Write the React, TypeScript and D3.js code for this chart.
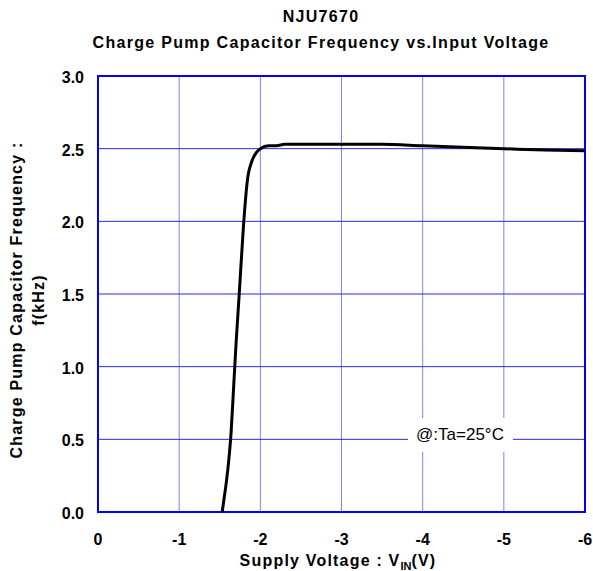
import React, { useEffect, useRef } from 'react';
import * as d3 from 'd3';

const voltage = [-1.53, -1.55, -1.58, -1.61, -1.64, -1.67, -1.7, -1.74, -1.79, -1.84, -1.9, -1.96, -2.0, -2.1, -2.2, -2.3, -2.5, -3.0, -3.5, -4.0, -4.5, -5.0, -5.5, -6.0];
const frequency = [0, 0.08, 0.2, 0.35, 0.55, 0.85, 1.15, 1.5, 1.95, 2.28, 2.42, 2.48, 2.5, 2.52, 2.52, 2.53, 2.53, 2.53, 2.53, 2.52, 2.51, 2.5, 2.49, 2.485];
const xTicks = [0, -1, -2, -3, -4, -5, -6];
const yTicks = [0, 0.5, 1.0, 1.5, 2.0, 2.5, 3.0];

const W = 593;
const H = 571;
const margin = { left: 98, right: 8, top: 76, bottom: 59 };

const App: React.FC = () => {
  const svgRef = useRef<SVGSVGElement>(null);

  useEffect(() => {
    if (!svgRef.current) return;
    const svg = d3.select(svgRef.current);
    svg.selectAll('*').remove();

    const x = d3.scaleLinear().domain([0, -6]).range([margin.left, W - margin.right]);
    const y = d3.scaleLinear().domain([0, 3]).range([H - margin.bottom, margin.top]);
    const font = 'Liberation Sans, Arial, sans-serif';

    // grid
    svg.append('g')
      .selectAll('line')
      .data(xTicks.slice(1, -1))
      .enter().append('line')
      .attr('x1', d => x(d)).attr('x2', d => x(d))
      .attr('y1', y(0)).attr('y2', y(3))
      .attr('stroke', '#7f7fff').attr('stroke-width', 1);

    svg.append('g')
      .selectAll('line')
      .data(yTicks.slice(1, -1))
      .enter().append('line')
      .attr('x1', x(0)).attr('x2', x(-6))
      .attr('y1', d => y(d)).attr('y2', d => y(d))
      .attr('stroke', '#2a2ae0').attr('stroke-width', 1);

    // note box
    svg.append('rect')
      .attr('x', 408).attr('y', 418).attr('width', 105).attr('height', 34)
      .attr('fill', '#fff');
    svg.append('text')
      .attr('x', 460).attr('y', 440)
      .attr('text-anchor', 'middle')
      .style('font-family', font).style('font-size', '17px')
      .text('@:Ta=25°C');

    // frame
    svg.append('rect')
      .attr('x', x(0)).attr('y', y(3))
      .attr('width', x(-6) - x(0)).attr('height', y(0) - y(3))
      .attr('fill', 'none').attr('stroke', '#0000ff').attr('stroke-width', 2);

    // curve
    const pts = voltage.map((v, i) => [v, frequency[i]] as [number, number]);
    const line = d3.line<[number, number]>()
      .x(d => x(d[0])).y(d => y(d[1]))
      .curve(d3.curveMonotoneX);
    svg.append('path')
      .attr('d', line(pts) || '')
      .attr('fill', 'none').attr('stroke', '#000').attr('stroke-width', 3)
      .attr('stroke-linejoin', 'round');

    // tick labels
    svg.append('g')
      .selectAll('text')
      .data(xTicks)
      .enter().append('text')
      .attr('x', d => x(d)).attr('y', 545)
      .attr('text-anchor', 'middle')
      .style('font-family', font).style('font-size', '16px').style('font-weight', 'bold')
      .text(d => String(d));

    svg.append('g')
      .selectAll('text')
      .data(yTicks)
      .enter().append('text')
      .attr('x', 84).attr('y', d => y(d) + 7)
      .attr('text-anchor', 'end')
      .style('font-family', font).style('font-size', '16px').style('font-weight', 'bold')
      .text(d => d.toFixed(1));

    // titles
    const title = svg.append('text')
      .attr('text-anchor', 'middle')
      .style('font-family', font).style('font-size', '16px').style('font-weight', 'bold')
      .style('letter-spacing', '1.3px');
    title.append('tspan').attr('x', 321).attr('y', 22).text('NJU7670');
    title.append('tspan').attr('x', 321).attr('y', 48).text('Charge Pump Capacitor Frequency vs.Input Voltage');

    const xt = svg.append('text')
      .attr('x', 338).attr('y', 566)
      .attr('text-anchor', 'middle')
      .style('font-family', font).style('font-size', '16px').style('font-weight', 'bold')
      .style('letter-spacing', '1.2px');
    xt.append('tspan').text('Supply Voltage : V');
    xt.append('tspan').attr('dy', 4).style('font-size', '11px').style('letter-spacing', '0px').text('IN');
    xt.append('tspan').attr('dy', -4).text('(V)');

    const yt = svg.append('text')
      .attr('transform', 'translate(0,300) rotate(-90)')
      .attr('text-anchor', 'middle')
      .style('font-family', font).style('font-size', '16px').style('font-weight', 'bold')
      .style('letter-spacing', '1.2px');
    yt.append('tspan').attr('x', 0).attr('y', 22).text('Charge Pump Capacitor Frequency :');
    yt.append('tspan').attr('x', 0).attr('y', 44).text('f(kHz)');
  }, []);

  return (
    <div style={{ position: 'absolute', left: 0, top: 0 }}>
      <svg ref={svgRef} width={W} height={H} style={{ display: 'block', background: '#fff' }} />
    </div>
  );
};

export default App;
